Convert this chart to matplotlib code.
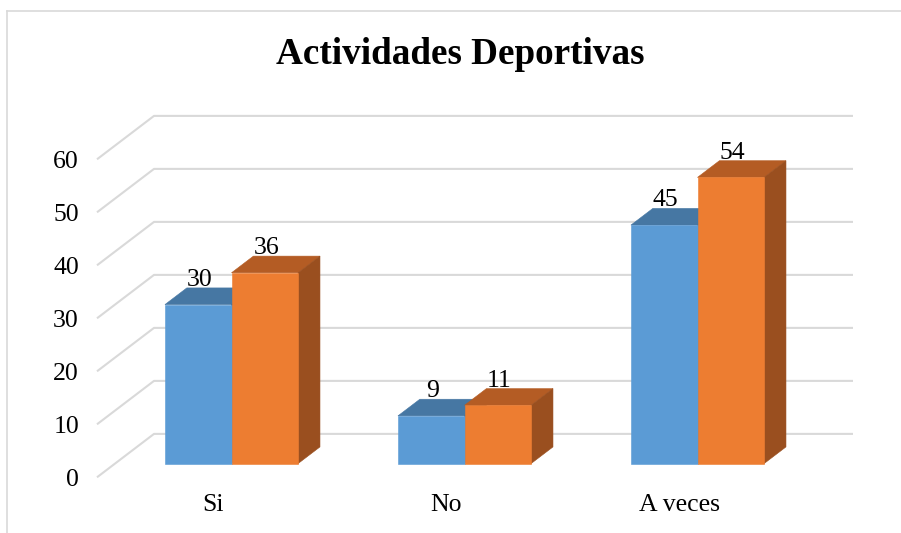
import matplotlib
matplotlib.use("Agg")
import matplotlib.pyplot as plt
from matplotlib.patches import Polygon
from matplotlib.lines import Line2D

# ---- data ----
title = "Actividades Deportivas"
categories = ["Si", "No", "A veces"]
series_blue = [30, 9, 45]
series_orange = [36, 11, 54]
y_ticks = [0, 10, 20, 30, 40, 50, 60]

# ---- geometry (pixel-based oblique projection) ----
W, H, DPI = 901, 533, 100
CAT_PX = 233.0          # pixels per category
VAL_PX = 5.3            # pixels per value unit
X0_PX = 97 + CAT_PX / 2 # pixel x of category 0 on front plane
Y0_PX = H - 477.3       # pixel y (from bottom) of value 0 on front plane
DEPTH_DX, DEPTH_DY = 57.0, 43.4   # pixel offset for full depth
D_FRONT, D_BACK = 0.316, 0.70     # bar depth range
BAR_W = 1 / 3.5
FS = 18.5

fig = plt.figure(figsize=(W / DPI, H / DPI), dpi=DPI)
ax = fig.add_axes([0, 0, 1, 1])
ax.set_xlim(-X0_PX / CAT_PX, (W - X0_PX) / CAT_PX)
ax.set_ylim(-Y0_PX / VAL_PX, (H - Y0_PX) / VAL_PX)
ax.axis("off")

DX = DEPTH_DX / CAT_PX
DY = DEPTH_DY / VAL_PX


def proj(x, v, d):
    return (x + d * DX, v + d * DY)


serif = ["Liberation Serif", "DejaVu Serif"]
grid_c = "#D9D9D9"

# gridlines (floor/back wall lines)
xmin, xmax = -0.5, len(categories) - 0.5
for v in y_ticks:
    pts = [proj(xmin, v, 0), proj(xmin, v, 1), proj(xmax, v, 1)]
    ax.plot([p[0] for p in pts], [p[1] for p in pts], color=grid_c, lw=1.5,
            solid_capstyle="butt", zorder=1)
    ax.annotate(str(v), xy=(xmin, v), xytext=(-18 * 72 / DPI, 0),
                textcoords="offset points", ha="right", va="center_baseline",
                fontsize=FS, family=serif, color="#000000")


def draw_bar(x0, x1, v, front, top, side, z):
    f = [proj(x0, 0, D_FRONT), proj(x1, 0, D_FRONT),
         proj(x1, v, D_FRONT), proj(x0, v, D_FRONT)]
    t = [proj(x0, v, D_FRONT), proj(x1, v, D_FRONT),
         proj(x1, v, D_BACK), proj(x0, v, D_BACK)]
    s = [proj(x1, 0, D_FRONT), proj(x1, 0, D_BACK),
         proj(x1, v, D_BACK), proj(x1, v, D_FRONT)]
    for poly, c in ((t, top), (s, side), (f, front)):
        ax.add_patch(Polygon(poly, closed=True, facecolor=c, edgecolor=c,
                             lw=0.4, zorder=z))


for i, (b, o) in enumerate(zip(series_blue, series_orange)):
    draw_bar(i - BAR_W, i, b, "#5B9BD5", "#4677A3", "#3E6A93", 3)
    draw_bar(i, i + BAR_W, o, "#ED7D31", "#B45C24", "#9A4F1F", 4)
    for xc, v in ((i - BAR_W / 2, b), (i + BAR_W / 2, o)):
        xp = proj(xc, v, D_FRONT)[0]
        yp = proj(xc, v, D_BACK)[1]
        ax.annotate(str(v), xy=(xp, yp), xytext=(1, 1.5),
                    textcoords="offset points", ha="center", va="baseline",
                    fontsize=FS, family=serif, color="#000000", zorder=6)
    ax.annotate(categories[i], xy=(i, 0), xytext=(0, -27.7 * 72 / DPI),
                textcoords="offset points", ha="center", va="center",
                fontsize=FS, family=serif, color="#000000")

fig.text(460 / W, 1 - 55 / H, title, ha="center", va="center",
         fontsize=26.7, fontweight="bold", family=serif, color="#000000")

# chart border (top and left visible)
fig.add_artist(Line2D([7 / W, 1], [1 - 11 / H, 1 - 11 / H],
                      transform=fig.transFigure, color=grid_c, lw=1.2))
fig.add_artist(Line2D([7 / W, 7 / W], [0, 1 - 11 / H],
                      transform=fig.transFigure, color=grid_c, lw=1.2))

fig.savefig("out.png", dpi=DPI, facecolor="white")
